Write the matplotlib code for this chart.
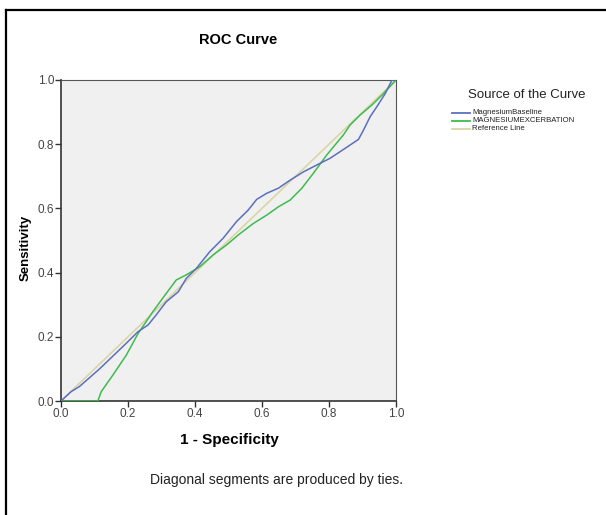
import matplotlib
matplotlib.use("Agg")
import matplotlib.pyplot as plt
from matplotlib.lines import Line2D

plt.rcParams['font.family'] = ['Liberation Sans', 'DejaVu Sans']

# curva baseline (1 - especificidade, sensibilidade)
baseline_fpr = [0.0, 0.03, 0.055, 0.115, 0.15, 0.195, 0.23, 0.26, 0.284, 0.314,
                0.35, 0.374, 0.404, 0.444, 0.484, 0.524, 0.559, 0.584, 0.614,
                0.649, 0.684, 0.724, 0.763, 0.803, 0.848, 0.888, 0.903, 0.923,
                0.943, 0.968, 0.988, 1.0]
baseline_tpr = [0.0, 0.029, 0.045, 0.10, 0.135, 0.18, 0.216, 0.237, 0.268, 0.309,
                0.34, 0.382, 0.413, 0.465, 0.507, 0.559, 0.595, 0.628, 0.647,
                0.663, 0.688, 0.714, 0.735, 0.756, 0.787, 0.815, 0.844, 0.886,
                0.917, 0.958, 1.0, 1.0]

# curva exacerbação
exac_fpr = [0.0, 0.11, 0.12, 0.155, 0.195, 0.23, 0.274, 0.314, 0.344, 0.374,
            0.414, 0.454, 0.494, 0.529, 0.574, 0.614, 0.649, 0.684, 0.719,
            0.753, 0.793, 0.843, 0.863, 0.893, 0.928, 0.963, 1.0]
exac_tpr = [0.0, 0.0, 0.029, 0.081, 0.143, 0.21, 0.278, 0.335, 0.377, 0.393,
            0.418, 0.455, 0.486, 0.517, 0.553, 0.579, 0.605, 0.626, 0.663,
            0.709, 0.766, 0.829, 0.86, 0.891, 0.922, 0.958, 1.0]

ref_x = [0.0, 1.0]
ref_y = [0.0, 1.0]

labels = ["MagnesiumBaseline", "MAGNESIUMEXCERBATION", "Reference Line"]
colors = ["#5a6fbf", "#3dbb4e", "#d9d6a6"]
ticks = [0.0, 0.2, 0.4, 0.6, 0.8, 1.0]

fig = plt.figure(figsize=(6.06, 5.15), dpi=100)

# moldura externa (só esquerda e topo visíveis)
fig.add_artist(Line2D([6 / 606, 6 / 606], [0, 1 - 10 / 515], color="black", lw=1.6))
fig.add_artist(Line2D([6 / 606, 1], [1 - 10 / 515, 1 - 10 / 515], color="black", lw=1.6))

ax = fig.add_axes([61 / 606, 1 - 401 / 515, (396 - 61) / 606, (401 - 80) / 515])
ax.set_facecolor("#f0f0f0")

ax.plot(ref_x, ref_y, color=colors[2], lw=1.2, zorder=2)
ax.plot(exac_fpr, exac_tpr, color=colors[1], lw=1.1, zorder=3)
ax.plot(baseline_fpr, baseline_tpr, color=colors[0], lw=1.1, zorder=4)

ax.set_xlim(0, 1)
ax.set_ylim(0, 1)
ax.set_xticks(ticks)
ax.set_yticks(ticks)
ax.set_xticklabels([f"{t:.1f}" for t in ticks])
ax.set_yticklabels([f"{t:.1f}" for t in ticks])
ax.tick_params(axis="both", direction="out", length=4, width=1, color="#333333",
               labelsize=8.5, labelcolor="#444444", pad=1)

for side in ["left", "bottom"]:
    ax.spines[side].set_color("#333333")
    ax.spines[side].set_linewidth(1.2)
for side in ["top", "right"]:
    ax.spines[side].set_color("#555555")
    ax.spines[side].set_linewidth(0.8)

fig.text(238 / 606, 1 - 40 / 515, "ROC Curve", ha="center", va="center",
         fontsize=10.5, fontweight="bold")
fig.text(26 / 606, 1 - 248 / 515, "Sensitivity", ha="center", va="center",
         rotation=90, fontsize=9.5, fontweight="bold")
fig.text(229 / 606, 1 - 440 / 515, "1 - Specificity", ha="center", va="center",
         fontsize=11, fontweight="bold")
fig.text(276 / 606, 1 - 480 / 515, "Diagonal segments are produced by ties.",
         ha="center", va="center", fontsize=10, color="#222222")

# legenda manual
fig.text(527 / 606, 1 - 95 / 515, "Source of the Curve", ha="center", va="center",
         fontsize=9.5, color="#222222")
for i, (lab, col) in enumerate(zip(labels, colors)):
    yy = 1 - (113 + 8 * i) / 515
    fig.add_artist(Line2D([452 / 606, 470 / 606], [yy, yy], color=col, lw=1.3))
    fig.text(472 / 606, yy, lab, ha="left", va="center", fontsize=5.6,
             color="#222222")

fig.savefig("out.png", dpi=100)
